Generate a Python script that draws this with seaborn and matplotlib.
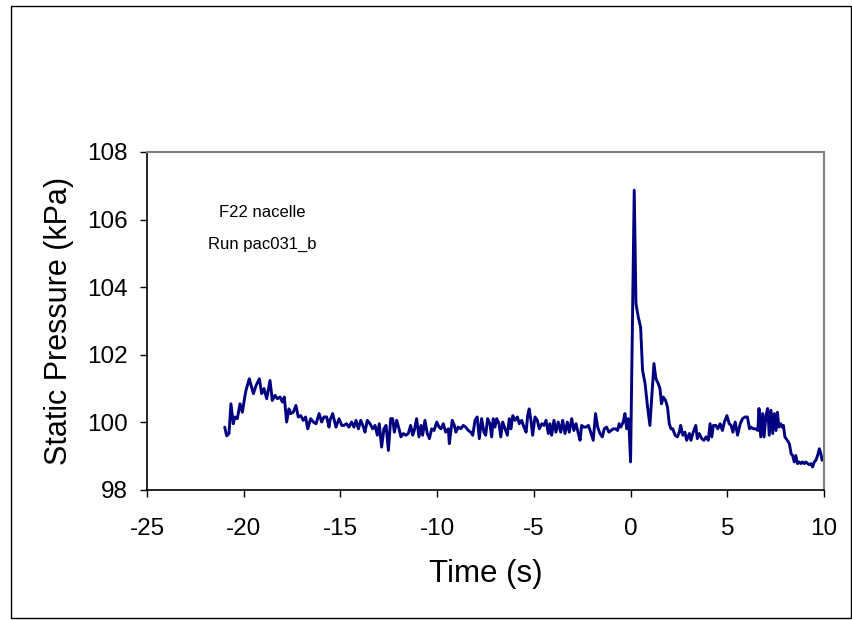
import matplotlib
matplotlib.use("Agg")
import matplotlib.pyplot as plt
import seaborn as sns
from matplotlib.patches import Rectangle

# time (s) and static pressure (kPa)
time_s = [
    -20.98, -20.88, -20.76, -20.66, -20.54, -20.45, -20.33, -20.19, -20.07, -19.93,
    -19.88, -19.71, -19.50, -19.36, -19.19, -19.07, -18.95, -18.81, -18.64, -18.52,
    -18.38, -18.26, -18.12, -18.00, -17.90, -17.78, -17.66, -17.57, -17.44, -17.30,
    -17.18, -17.05, -16.92, -16.80, -16.69, -16.54, -16.40, -16.26, -16.10, -15.97,
    -15.85, -15.71, -15.59,
    -15.54, -15.40, -15.23, -15.07, -14.93, -14.82, -14.68, -14.56, -14.42, -14.30,
    -14.19, -14.07, -13.95, -13.81, -13.73, -13.61, -13.47, -13.33, -13.21, -13.09,
    -12.99, -12.87, -12.75, -12.64, -12.52, -12.40, -12.30, -12.21, -12.09, -11.97,
    -11.87, -11.75, -11.61, -11.49, -11.37, -11.26, -11.18, -11.06, -10.94, -10.83,
    -10.75, -10.63, -10.51, -10.40, -10.28, -10.16, -10.02, -9.90,
    -9.80, -9.68, -9.56, -9.42, -9.37, -9.22, -9.11, -9.03, -8.91, -8.78,
    -8.65, -8.52, -8.39, -8.26, -8.16, -8.04, -7.93, -7.82, -7.70, -7.58,
    -7.49, -7.39, -7.27, -7.18, -7.10, -7.01, -6.92, -6.80, -6.71, -6.61,
    -6.49, -6.37, -6.27, -6.18, -6.09, -5.97, -5.85, -5.75, -5.63, -5.51,
    -5.40, -5.32, -5.24, -5.15, -5.06, -4.94, -4.82, -4.72, -4.59, -4.48,
    -4.37, -4.25,
    -4.17, -4.08, -3.96, -3.86, -3.74, -3.61, -3.51, -3.39, -3.27, -3.17,
    -3.04, -2.93, -2.82, -2.70, -2.61, -2.53, -2.41, -2.30, -2.18, -2.06,
    -1.93, -1.81, -1.70, -1.58, -1.46, -1.36, -1.24, -1.12, -1.01, -0.89,
    -0.77, -0.67, -0.59, -0.50, -0.38, -0.29, -0.20, -0.12, -0.07, 0.00,
    0.19, 0.28, 0.40, 0.52, 0.62, 0.75, 0.86, 1.00, 1.12, 1.21,
    1.31, 1.43, 1.52, 1.60, 1.69, 1.81, 1.91, 2.00, 2.09,
    2.18, 2.30, 2.42, 2.52, 2.59, 2.70, 2.81, 2.90, 3.04, 3.12,
    3.24, 3.37, 3.45, 3.55, 3.68, 3.79, 3.90, 4.02, 4.11, 4.20,
    4.28, 4.41, 4.51, 4.63, 4.75, 4.85, 4.98, 5.10, 5.20, 5.29,
    5.41, 5.53, 5.67, 5.79, 5.92, 6.04, 6.15, 6.23, 6.35, 6.47,
    6.58,
    6.64, 6.73, 6.83, 6.90, 7.00, 7.09, 7.17, 7.26, 7.35, 7.43,
    7.52, 7.59, 7.67, 7.76, 7.84, 7.90, 7.98, 8.10, 8.21, 8.30,
    8.38, 8.46, 8.54, 8.63, 8.72, 8.80, 8.89, 8.98, 9.06, 9.16,
    9.24, 9.33, 9.41, 9.50, 9.58, 9.67, 9.76, 9.84, 9.90,
]

pressure_kpa = [
    99.86, 99.60, 99.67, 100.55, 99.96, 100.16, 100.11, 100.55, 100.30, 100.80,
    100.95, 101.29, 100.85, 101.09, 101.29, 100.85, 101.00, 100.70, 101.24, 100.65,
    100.80, 100.70, 100.75, 100.60, 100.75, 100.01, 100.40, 100.26, 100.30, 100.50,
    100.16, 100.20, 100.06, 100.16, 99.81, 100.11, 100.01, 99.96, 100.26, 100.01,
    100.16, 100.16, 99.86,
    100.06, 100.26, 99.86, 100.11, 99.91, 99.91, 99.96, 99.86, 100.01, 99.86,
    100.06, 99.81, 100.06, 99.86, 99.71, 100.06, 99.96, 99.81, 99.91, 99.62,
    99.96, 99.27, 99.81, 99.91, 99.17, 100.11, 100.11, 99.71, 100.06, 99.81,
    99.57, 99.67, 99.62, 99.67, 99.91, 99.62, 99.76, 100.11, 99.57, 99.91,
    99.62, 100.06, 99.67, 99.52, 99.81, 99.76, 100.01, 99.86,
    99.81, 99.96, 99.71, 99.81, 99.37, 100.06, 99.91, 99.71, 99.86, 99.81,
    99.91, 99.86, 99.76, 99.71, 99.62, 100.06, 100.16, 99.52, 100.11, 99.71,
    99.62, 100.11, 99.96, 99.57, 100.11, 99.86, 100.11, 99.96, 99.57, 100.01,
    99.81, 99.62, 100.11, 99.81, 100.20, 100.06, 100.16, 99.96, 100.06, 99.86,
    99.71, 100.20, 100.40, 100.06, 99.62, 100.16, 100.06, 99.81, 99.96, 99.91,
    100.06, 99.67,
    99.96, 99.62, 100.06, 99.71, 100.01, 99.71, 100.06, 99.67, 100.01, 99.71,
    100.11, 99.76, 99.96, 99.67, 99.47, 99.91, 99.86, 99.86, 99.91, 99.71,
    99.47, 100.26, 99.86, 99.67, 99.57, 99.81, 99.86, 99.71, 99.76, 99.81,
    99.81, 99.76, 99.96, 99.86, 100.01, 100.26, 99.81, 100.11, 99.76, 98.83,
    106.87, 103.51, 103.11, 102.82, 101.54, 101.15, 100.55, 99.91, 100.95, 101.74,
    101.29, 101.15, 101.00, 100.55, 100.75, 100.65, 100.45, 99.96, 99.81,
    99.81, 99.62, 99.57, 99.71, 99.91, 99.62, 99.71, 99.47, 99.67, 99.47,
    99.71, 99.91, 99.52, 99.67, 99.52, 99.47, 99.57, 99.47, 99.96, 99.57,
    99.91, 99.91, 99.81, 99.96, 99.76, 100.01, 100.20, 99.96, 99.91, 99.71,
    100.01, 99.62, 99.96, 100.11, 100.16, 100.16, 99.81, 99.86, 99.81, 99.81,
    99.76,
    100.41, 99.57, 100.26, 99.57, 100.21, 100.41, 99.62, 100.36, 99.67, 100.26,
    99.76, 100.30, 99.86, 99.96, 99.86, 99.91, 99.57, 99.47, 99.37, 99.07,
    99.02, 98.83, 99.02, 98.78, 98.83, 98.78, 98.83, 98.78, 98.83, 98.78,
    98.75, 98.78, 98.68, 98.83, 98.88, 99.02, 99.22, 99.07, 98.88,
]

x_ticks = [-25, -20, -15, -10, -5, 0, 5, 10]
y_ticks = [98, 100, 102, 104, 106, 108]

sns.set_style("ticks")
plt.rcParams["font.family"] = ["Liberation Sans", "DejaVu Sans"]
plt.rcParams["axes.unicode_minus"] = False

fig = plt.figure(figsize=(8.53, 6.2), dpi=100)
ax = fig.add_axes([0.1723, 0.2097, 0.7937, 0.5452])

sns.lineplot(x=time_s, y=pressure_kpa, ax=ax, color="#000080",
             linewidth=2.1, estimator=None, sort=False)

ax.set_xlim(-25, 10)
ax.set_ylim(98, 108)
ax.set_xticks(x_ticks)
ax.set_yticks(y_ticks)
ax.tick_params(labelsize=17.5, length=5, width=1, color="black", labelcolor="black")
ax.tick_params(axis="x", pad=15)
ax.tick_params(axis="y", pad=9)
ax.set_xlabel("Time (s)", fontsize=22.5, color="black", labelpad=14)
ax.set_ylabel("Static Pressure (kPa)", fontsize=22, color="black", labelpad=9)

for side in ("left", "bottom"):
    ax.spines[side].set_color("black")
    ax.spines[side].set_linewidth(1.2)
for side in ("top", "right"):
    ax.spines[side].set_visible(True)
    ax.spines[side].set_color("#808080")
    ax.spines[side].set_linewidth(1.5)

ax.text(0.17, 0.8195, "F22 nacelle", transform=ax.transAxes,
        ha="center", va="center", fontsize=12, color="black")
ax.text(0.17, 0.725, "Run pac031_b", transform=ax.transAxes,
        ha="center", va="center", fontsize=12, color="black")

fig.patches.append(Rectangle((0.0129, 0.0032), 0.9848, 0.987, transform=fig.transFigure,
                             fill=False, edgecolor="black", linewidth=1))

plt.savefig("out.png", dpi=100)
plt.close()
